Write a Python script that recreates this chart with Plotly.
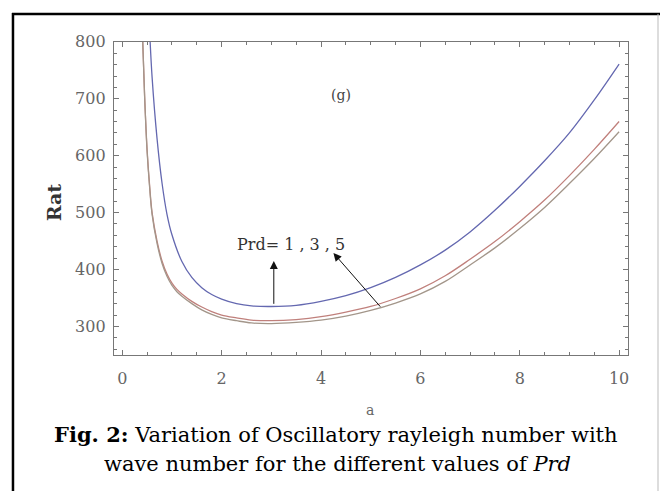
import plotly.graph_objects as go

# Data (hand-read, smoothed by eye)
a_prd1 = [0.55, 0.6, 0.7, 0.8, 0.9, 1.0, 1.2, 1.4, 1.6, 1.8, 2.0, 2.3, 2.6, 3.0, 3.5, 4.0, 4.5, 5.0, 5.5, 6.0, 6.5, 7.0, 7.5, 8.0, 8.5, 9.0, 9.5, 10.0]
rat_prd1 = [820, 738, 630, 552, 497, 461, 414, 386, 368, 356, 348, 340, 336, 335, 337, 344, 354, 368, 386, 408, 434, 466, 504, 546, 591, 640, 698, 761]

a_prd3 = [0.40, 0.42, 0.45, 0.50, 0.55, 0.6, 0.7, 0.8, 0.9, 1.0, 1.1, 1.2, 1.4, 1.6, 1.8, 2.0, 2.3, 2.6, 3.0, 3.5, 4.0, 4.5, 5.0, 5.5, 6.0, 6.5, 7.0, 7.5, 8.0, 8.5, 9.0, 9.5, 10.0]
rat_prd3 = [830, 780, 705, 610, 548, 500, 450, 415, 392, 376, 365, 357, 344, 334, 326, 320, 315, 311, 310, 312, 317, 325, 335, 349, 366, 389, 418, 449, 484, 522, 565, 611, 660]

a_prd5 = [0.40, 0.42, 0.45, 0.50, 0.55, 0.6, 0.7, 0.8, 0.9, 1.0, 1.1, 1.2, 1.4, 1.6, 1.8, 2.0, 2.3, 2.6, 3.0, 3.5, 4.0, 4.5, 5.0, 5.5, 6.0, 6.5, 7.0, 7.5, 8.0, 8.5, 9.0, 9.5, 10.0]
rat_prd5 = [830, 779, 703, 607, 545, 497, 446, 411, 388, 372, 361, 353, 340, 329, 321, 315, 310, 306, 305, 307, 311, 318, 328, 341, 357, 379, 408, 438, 472, 509, 551, 595, 642]

x_ticks = [0, 2, 4, 6, 8, 10]
y_ticks = [300, 400, 500, 600, 700, 800]

W, H = 661, 491
SERIF = "DejaVu Serif"

fig = go.Figure()
for xs, ys, col, name in [
    (a_prd1, rat_prd1, "#6468b0", "Prd=1"),
    (a_prd3, rat_prd3, "#c0807c", "Prd=3"),
    (a_prd5, rat_prd5, "#a3968a", "Prd=5"),
]:
    fig.add_trace(go.Scatter(x=xs, y=ys, mode="lines", name=name,
                             line=dict(color=col, width=1.3, shape="spline", smoothing=1.0),
                             showlegend=False, hoverinfo="skip"))

axis_common = dict(showgrid=False, zeroline=False, showline=True, linecolor="#777",
                   linewidth=1, mirror="allticks", ticks="inside", tickcolor="#777",
                   ticklen=5, tickwidth=1,
                   tickfont=dict(family=SERIF, size=16, color="#666"))

fig.update_layout(
    width=W, height=H, margin=dict(l=0, r=0, t=0, b=0),
    paper_bgcolor="white", plot_bgcolor="white",
    xaxis=dict(domain=[114 / W, 629 / W], range=[-0.17, 10.18],
               tickvals=x_ticks, ticktext=[str(v) for v in x_ticks],
               minor=dict(dtick=0.5, tick0=0, ticks="inside", ticklen=3, tickcolor="#777"),
               ticklabelstandoff=9, **axis_common),
    yaxis=dict(domain=[1 - 352.3 / H, 1 - 33.5 / H], range=[250, 800],
               tickvals=y_ticks, ticktext=[str(v) for v in y_ticks],
               minor=dict(dtick=20, tick0=0, ticks="inside", ticklen=3, tickcolor="#777"),
               ticklabelstandoff=4, **axis_common),
)

def note(x, y, text, size, color, ref="paper", **kw):
    d = dict(x=x, y=y, xref=ref if ref == "paper" else "x", yref=ref if ref == "paper" else "y",
             text=text, showarrow=False, xanchor="center", yanchor="middle",
             font=dict(family=SERIF, size=size, color=color))
    d.update(kw)
    return d

annotations = [
    note(3.40, 444, "Prd= 1 , 3 , 5", 16, "#333", ref="data"),
    note(4.41, 707, "(g)", 14, "#444", ref="data"),
    dict(x=3.05, y=415, ax=3.05, ay=337, xref="x", yref="y", axref="x", ayref="y",
         text="", showarrow=True, arrowhead=2, arrowsize=1.6, arrowwidth=1, arrowcolor="#111"),
    dict(x=4.25, y=429, ax=5.22, ay=332, xref="x", yref="y", axref="x", ayref="y",
         text="", showarrow=True, arrowhead=2, arrowsize=1.6, arrowwidth=1, arrowcolor="#111"),
    note(54 / W, 1 - 197 / H, "<b>Rat</b>", 19, "#333", textangle=-90),
    note(371 / W, 1 - 408 / H, "a", 14, "#666"),
    note(337 / W, 1 - 433 / H, "<b>Fig. 2:</b> Variation of Oscillatory rayleigh number with", 21, "#000"),
    note(338 / W, 1 - 463 / H, "wave number for the different values of <i>Prd</i>", 21, "#000"),
]
fig.update_layout(annotations=annotations)

shapes = [
    dict(type="line", xref="paper", yref="paper", x0=12 / W, x1=1, y0=1 - 5 / H, y1=1 - 5 / H,
         line=dict(color="#000", width=2.5)),
    dict(type="line", xref="paper", yref="paper", x0=13 / W, x1=13 / W, y0=0, y1=1 - 4 / H,
         line=dict(color="#000", width=2.5)),
    dict(type="line", xref="paper", yref="paper", x0=659 / W, x1=659 / W, y0=0, y1=1 - 5 / H,
         line=dict(color="#bbb", width=1)),
]
fig.update_layout(shapes=shapes)

fig.write_html("out.html")
